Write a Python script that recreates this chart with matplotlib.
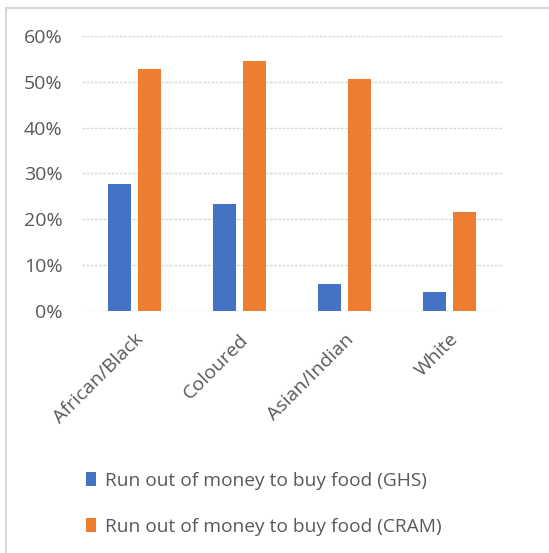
import numpy as np
import matplotlib
matplotlib.use("Agg")
import matplotlib.pyplot as plt
from matplotlib.lines import Line2D

categories = ["African/Black", "Coloured", "Asian/Indian", "White"]
ghs = [27.7, 23.3, 5.8, 4.1]
cram = [52.7, 54.5, 50.6, 21.6]
series_labels = ["Run out of money to buy food (GHS)", "Run out of money to buy food (CRAM)"]
yticks = [0, 10, 20, 30, 40, 50, 60]

blue = "#4472c4"
orange = "#ed7d31"
txt = "#595959"
grid = "#d9d9d9"

plt.rcParams['font.family'] = ['Open Sans', 'DejaVu Sans']

fig = plt.figure(figsize=(5.49, 5.53), dpi=100)
ax = fig.add_axes([0.149, 0.438, 0.765, 0.497])

x = np.arange(len(categories))
w = 0.22
off = 0.145
ax.bar(x - off, ghs, w, color=blue, label=series_labels[0], zorder=3)
ax.bar(x + off, cram, w, color=orange, label=series_labels[1], zorder=3)

ax.set_xlim(-0.5, len(categories) - 0.5)
ax.set_ylim(0, 60)
ax.set_yticks(yticks)
ax.set_yticklabels([f"{v}%" for v in yticks], fontsize=14, color=txt)
ax.set_xticks(x)
ax.set_xticklabels(categories, rotation=45, ha="right", rotation_mode="anchor",
                   fontsize=14, color=txt)
ax.tick_params(axis="both", length=0)
ax.tick_params(axis="x", pad=14)
ax.tick_params(axis="y", pad=14)
ax.yaxis.grid(True, color=grid, linestyle=(0, (2, 1)), linewidth=1, zorder=0)
for s in ax.spines.values():
    s.set_visible(False)

handles, labels = ax.get_legend_handles_labels()
fig.legend(handles, labels, loc="upper left", bbox_to_anchor=(0.125, 0.178),
           frameon=False, fontsize=13.8, labelcolor=txt, handlelength=0.55,
           handleheight=0.7, handletextpad=0.45, labelspacing=1.45)

# frame edges visible in the original image
fig.add_artist(Line2D([6 / 549, 6 / 549], [0, 1 - 8 / 553], color=grid, lw=1.5))
fig.add_artist(Line2D([6 / 549, 1], [1 - 8 / 553, 1 - 8 / 553], color=grid, lw=1.5))

fig.savefig("out.png", dpi=100)
